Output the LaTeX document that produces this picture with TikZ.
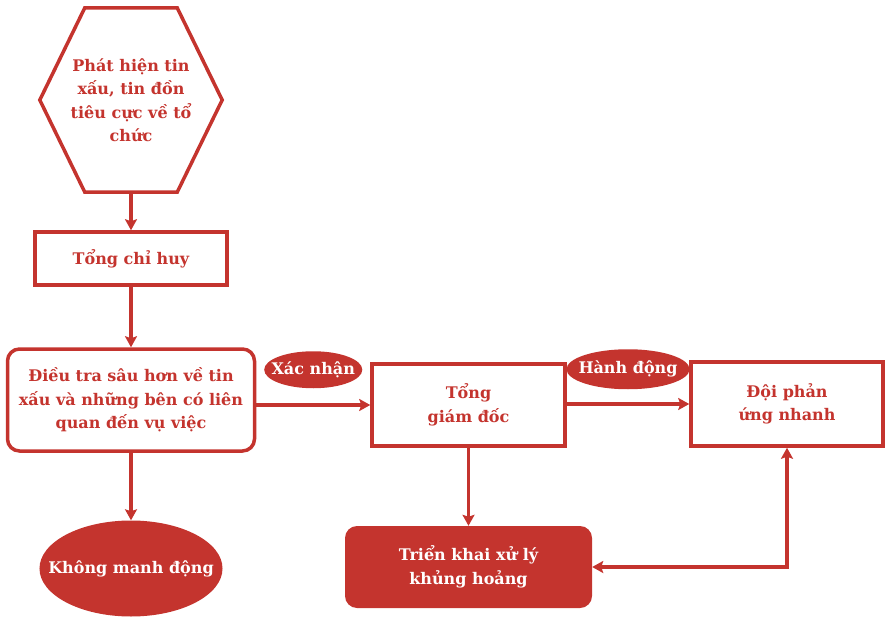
\documentclass[tikz,border=0pt]{standalone}
\usepackage{fontspec}
\setmainfont{DejaVu Serif}
\usetikzlibrary{arrows.meta,calc,shapes.geometric}
\definecolor{crisisred}{RGB}{196,52,46}

\begin{document}
\begin{tikzpicture}[
    x=1pt,
    y=-1pt,
    every node/.style={font=\bfseries\fontsize{16}{23.5}\selectfont, align=center},
    plainbox/.style={draw=crisisred, line width=3.5pt, text=crisisred},
    roundbox/.style={plainbox, rounded corners=12pt},
    solidbox/.style={fill=crisisred, text=white, rounded corners=12pt},
    solidoval/.style={ellipse, fill=crisisred, text=white, inner ysep=0pt},
    flow/.style={draw=crisisred, line width=3.5pt, -{Stealth[length=11pt, width=12pt, inset=2pt]}}
]
    \useasboundingbox (0,0) rectangle (885,617);

    % hexagon start
    \node[text=crisisred, minimum width=182pt, minimum height=184pt, inner sep=0pt] (alert) at (131,100)
        {Phát hiện tin\\ xấu, tin đồn\\ tiêu cực về tổ\\ chức};
    \draw[crisisred, line width=3.5pt, line join=miter]
        ($(alert.north west)+(45,0)$) -- ($(alert.north east)+(-45,0)$) -- (alert.east)
        -- ($(alert.south east)+(-45,0)$) -- ($(alert.south west)+(45,0)$) -- (alert.west) -- cycle;

    \node[plainbox, minimum width=192pt, minimum height=53pt] (chief) at (131,258.5) {Tổng chỉ huy};
    \node[roundbox, minimum width=247pt, minimum height=102pt] (probe) at (131,400)
        {Điều tra sâu hơn về tin\\ xấu và những bên có liên\\ quan đến vụ việc};
    \node[solidoval, inner xsep=-18pt, minimum width=182pt, minimum height=96pt] (calm) at (131,568.5)
        {Không manh động};

    \node[plainbox, minimum width=193pt, minimum height=82pt] (ceo) at (468.5,405) {Tổng\\ giám đốc};
    \node[plainbox, minimum width=192pt, minimum height=84pt] (team) at (787,404) {Đội phản\\ ứng nhanh};
    \node[solidbox, minimum width=247pt, minimum height=82pt] (handle) at (468.5,567)
        {Triển khai xử lý\\ khủng hoảng};

    % connectors
    \draw[flow] (alert.south) -- (chief.north);
    \draw[flow] (chief.south) -- (probe.north);
    \draw[flow] (probe.south) -- (calm.north);
    \draw[flow] (probe.east |- ceo.west) -- node[solidoval, inner xsep=-7pt, minimum width=96pt,
        minimum height=37pt, midway, above=15pt] (confirm) {Xác nhận} (ceo.west);
    \draw[flow] (ceo.east |- team.west) -- node[solidoval, inner xsep=-6pt, minimum width=112pt,
        minimum height=40pt, midway, above=13pt] (act) {Hành động} (team.west);
    \draw[flow] (ceo.south) -- (handle.north);
    \draw[flow, {Stealth[length=11pt, width=12pt, inset=2pt]}-{Stealth[length=11pt, width=12pt, inset=2pt]}]
        (handle.east) -| (team.south);

\end{tikzpicture}
\end{document}
